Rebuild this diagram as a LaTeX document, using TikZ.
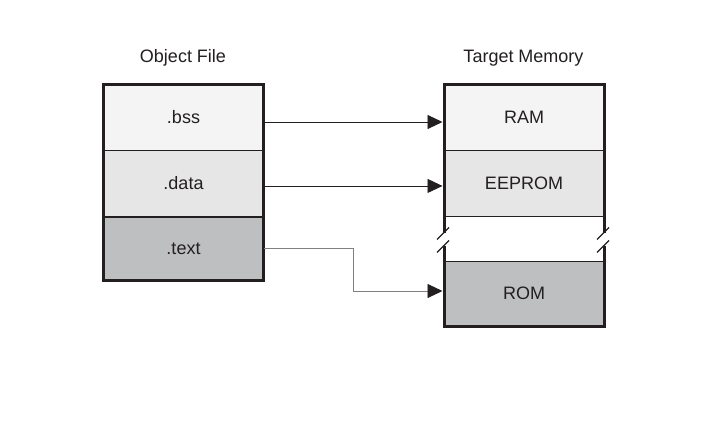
\documentclass[tikz,border=0pt]{standalone}
\usepackage{fontspec}
\setmainfont{Liberation Sans}
\usepackage{xcolor}
\usetikzlibrary{calc,positioning,arrows.meta}

\definecolor{segLight}{HTML}{F4F4F4}
\definecolor{segMid}{HTML}{E6E6E6}
\definecolor{segDark}{HTML}{BEBFC1}
\definecolor{lineDark}{HTML}{231F20}
\definecolor{lineGray}{HTML}{808080}

\begin{document}
\begin{tikzpicture}[x=1pt,y=-1pt,
    seg/.style={draw=lineDark, line width=1pt, minimum width=160pt, inner sep=0pt,
        outer sep=0pt, text=lineDark, font=\fontsize{18}{21}\selectfont},
    title/.style={text=lineDark, font=\fontsize{18}{21}\selectfont, anchor=base},
    frame/.style={draw=lineDark, line width=3pt, line join=miter},
    brk/.style={draw=lineDark, line width=1.3pt},
    arr/.style={draw=lineDark, line width=0.9pt, shorten >=1.5pt,
        -{Triangle[length=15pt,width=14pt,color=lineDark]}}]

        \useasboundingbox[fill=white] (0,0) rectangle (713,428);

        %%object file
        \node[title] (objtitle) at (183,63) {Object File};
        \node[seg, fill=segLight, minimum height=65pt] (bss) at (183.5,117.5) {.bss};
        \node[seg, fill=segMid, minimum height=66.7pt] (data) at (183.5,183.35) {.data};
        \node[seg, fill=segDark, minimum height=63.3pt] (text) at (183.5,248.35) {.text};
            \draw[lineDark, line width=2pt] (data.south west) to (data.south east);
            \draw[frame] (bss.north west) rectangle (text.south east);

        %%target memory
        \node[title] (memtitle) at (523.5,63) {Target Memory};
        \node[seg, fill=segLight, minimum height=65pt] (ram) at (524,117.5) {RAM};
        \node[seg, fill=segMid, minimum height=66pt] (eeprom) at (524,183) {EEPROM};
        \node[seg, fill=segDark, minimum height=65pt] (rom) at (524,293.5) {ROM};
            \coordinate (brkL1) at (444,233);
            \coordinate (brkL2) at (444,246);
            \coordinate (brkR1) at (604,233);
            \coordinate (brkR2) at (604,246);
            \draw[frame] (brkL1) to (ram.north west) to (ram.north east) to (brkR1);
            \draw[frame] (brkL2) to (rom.south west) to (rom.south east) to (brkR2);
        %%breaks
        \foreach \b in {brkL1,brkL2,brkR1,brkR2}
            \draw[brk] ($(\b)+(-7,6.5)$) to ($(\b)+(5,-5.5)$);

        %%arrows
        \coordinate (bssOut) at ([yshift=-4.5pt]bss.east);
        \coordinate (dataOut) at ([yshift=-2.6pt]data.east);
        \coordinate (romIn) at ([yshift=2.5pt]rom.west);
        \coordinate (textBend) at (353,0);
            \draw[arr] (bssOut) to (bssOut -| ram.west);
            \draw[arr] (dataOut) to (dataOut -| eeprom.west);
            \draw[arr, draw=lineGray] (text.east) -| (textBend |- romIn) -- (romIn);
    \end{tikzpicture}
\end{document}
